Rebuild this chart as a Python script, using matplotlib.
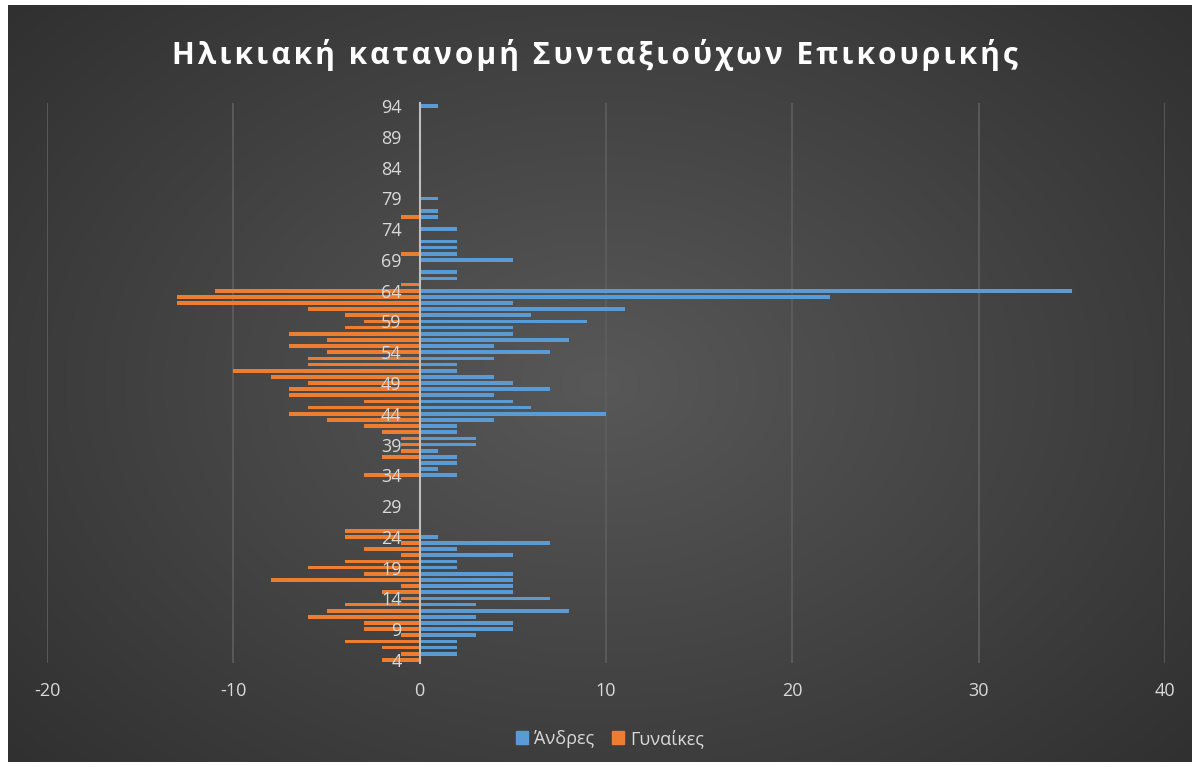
import matplotlib
matplotlib.use("Agg")
from matplotlib import pyplot as plt
from matplotlib.patches import Patch
import numpy as np

plt.rcParams["font.family"] = ["Open Sans", "DejaVu Sans"]
plt.rcParams["axes.unicode_minus"] = False

title = "Ηλικιακή κατανομή Συνταξιούχων Επικουρικής"
labels = ["Άνδρες", "Γυναίκες"]

ages = list(range(4, 95))

# men per age, 4 .. 94
men = [
    0, 2, 2, 2, 3, 5, 5, 3, 8, 3,          # 4-13
    7, 5, 5, 5, 5, 2, 2, 5, 2, 7,          # 14-23
    1, 0, 0, 0, 0, 0, 0, 0, 0, 0,          # 24-33
    2, 1, 2, 2, 1, 3, 3, 2, 2, 4,          # 34-43
    10, 6, 5, 4, 7, 5, 4, 2, 2, 4,         # 44-53
    7, 4, 8, 5, 5, 9, 6, 11, 5, 22,        # 54-63
    35, 0, 2, 2, 0, 5, 2, 2, 2, 0,         # 64-73
    2, 0, 1, 1, 0, 1, 0, 0, 0, 0,          # 74-83
    0, 0, 0, 0, 0, 0, 0, 0, 0, 0,          # 84-93
    1,                                     # 94
]

# women per age (negative side)
women = [
    -2, -1, -2, -4, -1, -3, -3, -6, -5, -4,
    -1, -2, -1, -8, -3, -6, -4, -1, -3, -1,
    -4, -4, 0, 0, 0, 0, 0, 0, 0, 0,
    -3, 0, 0, -2, -1, -1, -1, -2, -3, -5,
    -7, -6, -3, -7, -7, -6, -8, -10, -6, -6,
    -5, -7, -5, -7, -4, -3, -4, -6, -13, -13,
    -11, -1, 0, 0, 0, 0, -1, 0, 0, 0,
    0, 0, -1, 0, 0, 0, 0, 0, 0, 0,
    0, 0, 0, 0, 0, 0, 0, 0, 0, 0,
    0,
]

blue = "#5B9BD5"
orange = "#ED7D31"
txt = "#D9D9D9"

fig = plt.figure(figsize=(12, 7.67), dpi=100, facecolor="white")

# dark radial background like the excel style
bg = fig.add_axes([8 / 1200, 5 / 767, 1184 / 1200, 757 / 767])
yy, xx = np.mgrid[-1:1:300j, -1:1:470j]
r = np.sqrt((xx * 0.9) ** 2 + (yy * 0.8) ** 2)
v = np.clip(0.345 - 0.13 * r, 0.17, 1)
bg.imshow(np.dstack([v, v, v]), aspect="auto", extent=[0, 1, 0, 1])
bg.axis("off")

ax = fig.add_axes([47 / 1200, 1 - 663 / 767, 1118 / 1200, 560 / 767])
ax.patch.set_alpha(0)

ax.barh(ages, men, height=0.6, color=blue, zorder=3)
ax.barh(ages, women, height=0.6, color=orange, zorder=3)

ax.set_xlim(-20, 40)
ax.set_ylim(3.5, 94.5)
ax.set_xticks(range(-20, 41, 10))
ax.set_yticks(ages[::5])
ax.grid(axis="x", color="#5e5e5e", linewidth=1.2, zorder=0)

for s in ["top", "right", "bottom"]:
    ax.spines[s].set_visible(False)
ax.spines["left"].set_position(("data", 0))
ax.spines["left"].set_color("#BFBFBF")
ax.spines["left"].set_linewidth(1.5)
ax.spines["left"].set_zorder(4)
ax.yaxis.set_zorder(5)

ax.tick_params(axis="both", length=0, labelcolor=txt, labelsize=13)
ax.tick_params(axis="y", pad=13)
ax.tick_params(axis="x", pad=14)

fig.text(0.496, 0.928, "\u200a".join(title), ha="center", va="center",
         color="white", fontsize=21.5, fontweight="bold")

handles = [Patch(color=blue), Patch(color=orange)]
leg = fig.legend(handles, labels, loc="center", bbox_to_anchor=(0.508, 0.037),
                 ncol=2, frameon=False, fontsize=13, handlelength=0.7,
                 handleheight=0.7, handletextpad=0.3, columnspacing=1.0)
for t in leg.get_texts():
    t.set_color(txt)

plt.savefig("out.png", dpi=100, facecolor=fig.get_facecolor())
